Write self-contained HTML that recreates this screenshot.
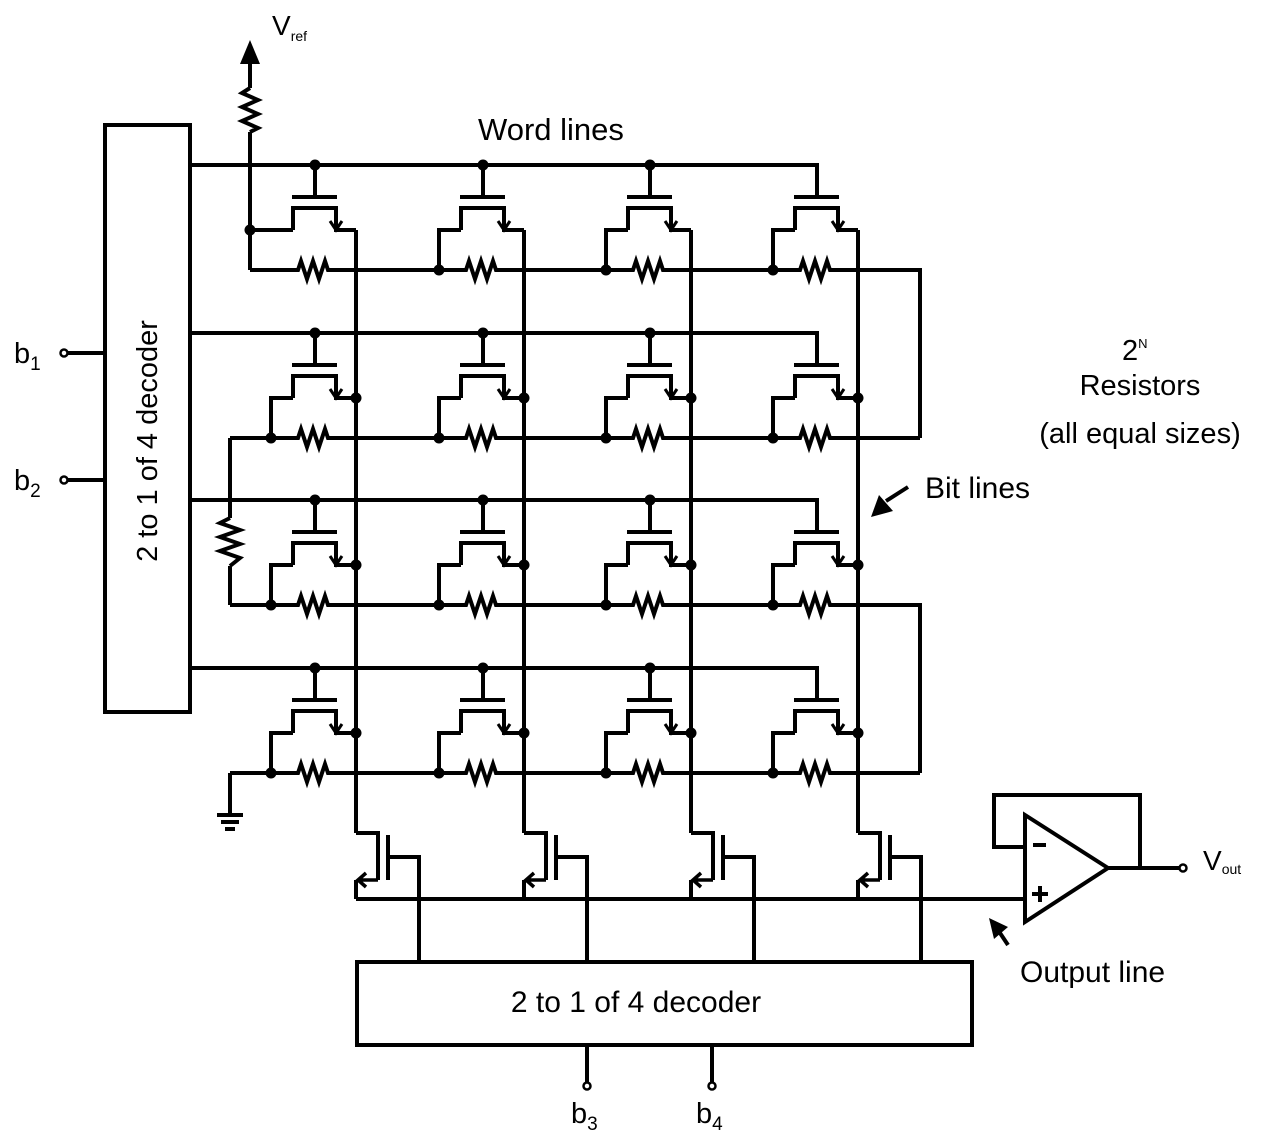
<!DOCTYPE html>
<html><head><meta charset="utf-8"><style>html,body{margin:0;padding:0;background:#fff}svg{display:block}text{font-family:"Liberation Sans",sans-serif;fill:#000}</style></head>
<body>
<svg width="1264" height="1142" viewBox="0 0 1264 1142" xmlns="http://www.w3.org/2000/svg">
<defs>
<g id="top">
  <path d="M-41,0 V32 M-64,32 H-19 M-63,65 V43 H-20 V65 H0" fill="none" stroke="#000" stroke-width="4"/>
  <path d="M-26,56 L-20,65 L-14,56" fill="none" stroke="#000" stroke-width="3"/>
</g>
<g id="res">
  <rect x="-64" y="94" width="42" height="22" fill="#fff"/>
  <path d="M-66,105 L-58,105 L-55,96 L-49,114 L-43,96 L-37,114 L-31,96 L-28,105 L-22,105" fill="none" stroke="#000" stroke-width="4"/>
</g>
<g id="cell">
  <use href="#top"/>
  <path d="M-63,65 H-85 V105" fill="none" stroke="#000" stroke-width="4"/>
  <circle cx="-85" cy="105" r="5.5"/>
  <circle cx="0" cy="65" r="5.5"/>
  <use href="#res"/>
</g>
<g id="cell0">
  <use href="#top"/>
  <path d="M-63,65 H-85 V105" fill="none" stroke="#000" stroke-width="4"/>
  <circle cx="-85" cy="105" r="5.5"/>
  <use href="#res"/>
</g>
<g id="bt">
  <path d="M0,833 H22 V880 M32,835 V880 M32,857 H63 V962" fill="none" stroke="#000" stroke-width="4"/>
  <path d="M10,873 L2,880 L10,887 M2,880 H22" fill="none" stroke="#000" stroke-width="3.5"/>
</g>
</defs>
<g fill="none" stroke="#000" stroke-width="4">
  <rect x="105" y="125" width="85" height="587"/>
  <path d="M68,353 H105 M68,480 H105"/>
  <path d="M190,165 H817 V197 M190,333 H817 V365 M190,500 H817 V532 M190,668 H817 V700"/>
  <path d="M250,270 H920 V438 M230,438 H920 M230,605 H920 V773 M230,773 H920"/>
  <path d="M250,62 V88 M250,132 V270 M250,230 H293"/>
  <path d="M250,88 L242,93 L258,100 L242,107 L258,114 L242,121 L258,128 L250,132"/>
  <path d="M230,438 V518 M230,566 V605"/>
  <path d="M230,518 L220,523 L240,530 L220,537 L240,544 L220,551 L240,558 L230,566"/>
  <path d="M230,773 V815 M217,815 H243 M221,822 H239 M225,829 H235"/>
  <path d="M356,230 V833 M524,230 V833 M691,230 V833 M858,230 V833"/>
  <path d="M356,880 V899 M524,880 V899 M691,880 V899 M858,880 V899 M356,899 H1025"/>
  <rect x="357" y="962" width="615" height="83"/>
  <path d="M587,1045 V1082 M712,1045 V1082"/>
  <path d="M1025,815 V922 L1108,868 Z"/>
  <path d="M1025,847 H994 V795 H1140 V868 M1108,868 H1180"/>
  <path d="M1033,845 H1046 M1032,894 H1048 M1040,886 V902"/>
  <path d="M908,487 L886,501 M1008,945 L998,930"/>
</g>
<g fill="#fff" stroke="#000" stroke-width="2.5">
  <circle cx="64" cy="353" r="3.5"/><circle cx="64" cy="480" r="3.5"/>
  <circle cx="587" cy="1086" r="3.5"/><circle cx="712" cy="1086" r="3.5"/>
  <circle cx="1183" cy="868" r="3.5"/>
</g>
<polygon points="250,40 240,64 260,64"/>
<polygon points="871,517 879,495 893,511"/>
<polygon points="989,918 1008,927 994,939"/>
<circle cx="250" cy="230" r="5.5"/>
<g>
<circle cx="315" cy="165" r="5.5"/><circle cx="483" cy="165" r="5.5"/><circle cx="650" cy="165" r="5.5"/>
<circle cx="315" cy="333" r="5.5"/><circle cx="483" cy="333" r="5.5"/><circle cx="650" cy="333" r="5.5"/>
<circle cx="315" cy="500" r="5.5"/><circle cx="483" cy="500" r="5.5"/><circle cx="650" cy="500" r="5.5"/>
<circle cx="315" cy="668" r="5.5"/><circle cx="483" cy="668" r="5.5"/><circle cx="650" cy="668" r="5.5"/>
</g>
<use href="#top" transform="translate(356,165)"/>
<use href="#res" transform="translate(356,165)"/>
<use href="#cell0" transform="translate(524,165)"/>
<use href="#cell0" transform="translate(691,165)"/>
<use href="#cell0" transform="translate(858,165)"/>
<use href="#cell" transform="translate(356,333)"/>
<use href="#cell" transform="translate(524,333)"/>
<use href="#cell" transform="translate(691,333)"/>
<use href="#cell" transform="translate(858,333)"/>
<use href="#cell" transform="translate(356,500)"/>
<use href="#cell" transform="translate(524,500)"/>
<use href="#cell" transform="translate(691,500)"/>
<use href="#cell" transform="translate(858,500)"/>
<use href="#cell" transform="translate(356,668)"/>
<use href="#cell" transform="translate(524,668)"/>
<use href="#cell" transform="translate(691,668)"/>
<use href="#cell" transform="translate(858,668)"/>
<use href="#bt" transform="translate(356,0)"/>
<use href="#bt" transform="translate(524,0)"/>
<use href="#bt" transform="translate(691,0)"/>
<use href="#bt" transform="translate(858,0)"/>
<text x="272" y="35" font-size="28">V<tspan font-size="14" dy="6">ref</tspan></text>
<text x="478" y="140" font-size="31">Word lines</text>
<text x="14" y="363" font-size="29">b<tspan font-size="19" dy="7">1</tspan></text>
<text x="14" y="490" font-size="29">b<tspan font-size="19" dy="7">2</tspan></text>
<text transform="translate(157,441) rotate(-90)" text-anchor="middle" font-size="29">2 to 1 of 4 decoder</text>
<text x="1122" y="360" font-size="29">2<tspan font-size="13" dy="-12">N</tspan></text>
<text x="1140" y="395" font-size="29" text-anchor="middle">Resistors</text>
<text x="1140" y="443" font-size="29" text-anchor="middle">(all equal sizes)</text>
<text x="925" y="498" font-size="30">Bit lines</text>
<text x="1203" y="870" font-size="28">V<tspan font-size="14" dy="4">out</tspan></text>
<text x="1020" y="982" font-size="30">Output line</text>
<text x="636" y="1012" font-size="30" text-anchor="middle">2 to 1 of 4 decoder</text>
<text x="571" y="1123" font-size="29">b<tspan font-size="19" dy="7">3</tspan></text>
<text x="696" y="1123" font-size="29">b<tspan font-size="19" dy="7">4</tspan></text>
</svg>
</body></html>
